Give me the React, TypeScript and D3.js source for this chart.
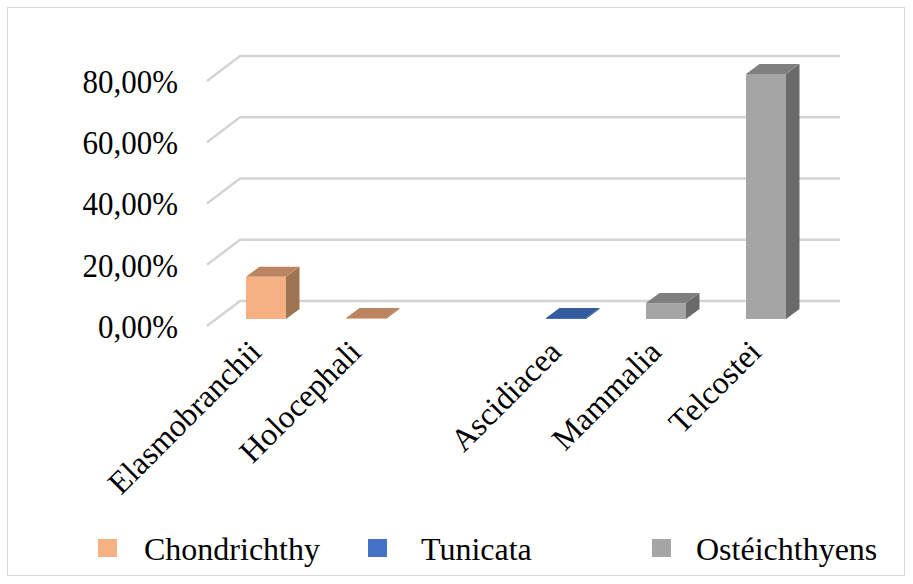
import React from "react";
import * as d3 from "d3";

const categories = ["Elasmobranchii", "Holocephali", "", "Ascidiacea", "Mammalia", "Telcostei"];
const seriesNames = ["Chondrichthy", "Tunicata", "Ostéichthyens"];
const chondrichthy = [13.8, 0.3, null, null, null, null];
const tunicata = [null, null, null, 0.3, null, null];
const osteichthyens = [null, null, null, null, 5.2, 80.0];
const yTicks = [0, 20, 40, 60, 80];
const yTickLabels = ["0,00%", "20,00%", "40,00%", "60,00%", "80,00%"];

const seriesValues = [chondrichthy, tunicata, osteichthyens];
const palette = [
  { front: "#F4B183", top: "#BA8560", side: "#9E7452", legend: "#F4B183" },
  { front: "#3A64B0", top: "#335B9E", side: "#2B4C86", legend: "#4472C4" },
  { front: "#A5A5A5", top: "#7F7F7F", side: "#6A6A6A", legend: "#A5A5A5" },
];

const W = 913;
const H = 584;
const FONT = "'Liberation Serif', 'Times New Roman', serif";

export default function App() {
  const floorX = 207;
  const floorY = 326;
  const depth = { dx: 33, dy: -25 };
  const barOff = { dx: 9, dy: -7 };
  const barDepth = { dx: 13.5, dy: -10 };

  const y = d3.scaleLinear().domain([0, 80]).range([0, 245]);
  const x = d3
    .scaleBand<string>()
    .domain(categories.map((c, i) => i + ""))
    .range([floorX + barOff.dx, floorX + barOff.dx + 600])
    .paddingInner(0.6)
    .paddingOuter(0.3);
  const bw = x.bandwidth();
  const baseY = floorY + barOff.dy;

  const bars: any[] = [];
  seriesValues.forEach((vals, s) => {
    vals.forEach((v, i) => {
      if (v == null) return;
      const x0 = x(i + "") as number;
      const yt = baseY - y(v);
      const yb = baseY;
      const c = palette[s];
      const top = [
        [x0, yt],
        [x0 + bw, yt],
        [x0 + bw + barDepth.dx, yt + barDepth.dy],
        [x0 + barDepth.dx, yt + barDepth.dy],
      ];
      const side = [
        [x0 + bw, yt],
        [x0 + bw + barDepth.dx, yt + barDepth.dy],
        [x0 + bw + barDepth.dx, yb + barDepth.dy],
        [x0 + bw, yb],
      ];
      bars.push(
        <g key={`b${s}-${i}`}>
          <polygon points={side.map((p) => p.join(",")).join(" ")} fill={c.side} />
          <polygon points={top.map((p) => p.join(",")).join(" ")} fill={c.top} />
          <rect x={x0} y={yt} width={bw} height={Math.max(yb - yt, 0.5)} fill={c.front} />
        </g>
      );
    });
  });

  const legendItems = [
    { mx: 98, tx: 144 },
    { mx: 368, tx: 421 },
    { mx: 652, tx: 696 },
  ];

  return (
    <svg
      width={W}
      height={H}
      style={{ position: "absolute", left: 0, top: 0, background: "#fff" }}
      fontFamily={FONT}
    >
      <rect x={7.5} y={7.5} width={897} height={568} fill="#fff" stroke="#D9D9D9" strokeWidth={1} />
      {yTicks.map((t) => {
        const yf = floorY - y(t);
        return (
          <polyline
            key={`g${t}`}
            points={`${floorX},${yf} ${floorX + depth.dx},${yf + depth.dy} ${floorX + depth.dx + 600},${yf + depth.dy}`}
            stroke="#D4D4D4"
            strokeWidth={2.5}
            fill="none"
            strokeLinejoin="round"
          />
        );
      })}
      {yTicks.map((t, i) => (
        <text
          key={`yl${t}`}
          transform={`translate(178, ${floorY - y(t)}) scale(0.91, 1)`}
          textAnchor="end"
          dy="0.35em"
          fontSize={34}
          fill="#000"
        >
          {yTickLabels[i]}
        </text>
      ))}
      {bars}
      {categories.map((c, i) =>
        c ? (
          <text
            key={`xl${i}`}
            transform={`translate(${(x(i + "") as number) + bw / 2 - 3}, 354) rotate(-45)`}
            textAnchor="end"
            fontSize={32}
            fill="#000"
          >
            {c}
          </text>
        ) : null
      )}
      {seriesNames.map((n, s) => (
        <g key={`lg${s}`}>
          <rect x={legendItems[s].mx} y={539} width={19} height={18} fill={palette[s].legend} />
          <text x={legendItems[s].tx} y={560} fontSize={32} fill="#000">
            {n}
          </text>
        </g>
      ))}
    </svg>
  );
}
